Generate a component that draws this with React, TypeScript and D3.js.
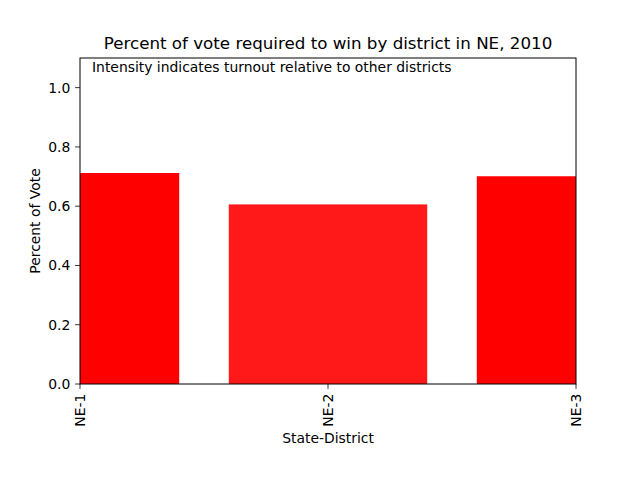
import React from 'react';
import * as d3 from 'd3';

// districts and their winning vote share
const districts = ['NE-1', 'NE-2', 'NE-3'];
const voteShare = [0.712, 0.606, 0.701];
// turnout intensity -> bar opacity
const intensity = [1.0, 0.9, 1.0];
const yTicks = [0.0, 0.2, 0.4, 0.6, 0.8, 1.0];

const W = 640;
const H = 480;
const margin = { top: 58, right: 64, bottom: 96, left: 80 };
const font = 'DejaVu Sans, sans-serif';

export default function App() {
  const innerW = W - margin.left - margin.right;
  const innerH = H - margin.top - margin.bottom;

  const x = d3.scaleLinear().domain([0, districts.length - 1]).range([0, innerW]);
  const y = d3.scaleLinear().domain([0, 1.1]).range([innerH, 0]);
  const barW = 0.8;

  return (
    <svg width={W} height={H} style={{ position: 'absolute', left: 0, top: 0, background: '#fff' }}>
      <defs>
        <clipPath id="plotClip">
          <rect x={0} y={0} width={innerW} height={innerH} />
        </clipPath>
      </defs>
      <text x={margin.left + innerW / 2} y={49} textAnchor="middle" fontFamily={font} fontSize={16.7}>
        Percent of vote required to win by district in NE, 2010
      </text>
      <g transform={`translate(${margin.left},${margin.top})`}>
        <g clipPath="url(#plotClip)">
          {districts.map((d, i) => (
            <rect
              key={d}
              x={x(i - barW / 2)}
              y={y(voteShare[i])}
              width={x(i + barW / 2) - x(i - barW / 2)}
              height={y(0) - y(voteShare[i])}
              fill="red"
              fillOpacity={intensity[i]}
            />
          ))}
        </g>
        <text x={12} y={14} fontFamily={font} fontSize={13.9}>
          Intensity indicates turnout relative to other districts
        </text>
        <rect x={0} y={0} width={innerW} height={innerH} fill="none" stroke="#000" strokeWidth={1} />
        {yTicks.map(t => (
          <g key={t} transform={`translate(0,${y(t)})`}>
            <line x1={-4.9} x2={0} stroke="#000" strokeWidth={0.8} />
            <text x={-9.7} dy="0.35em" textAnchor="end" fontFamily={font} fontSize={13.9}>
              {t.toFixed(1)}
            </text>
          </g>
        ))}
        {districts.map((d, i) => (
          <g key={d} transform={`translate(${x(i)},${innerH})`}>
            <line y1={0} y2={4.9} stroke="#000" strokeWidth={0.8} />
            <text
              transform="translate(0,9.7) rotate(-90)"
              dy="0.35em"
              textAnchor="end"
              fontFamily={font}
              fontSize={13.9}
            >
              {d}
            </text>
          </g>
        ))}
        <text x={innerW / 2} y={innerH + 59} textAnchor="middle" fontFamily={font} fontSize={13.9}>
          State-District
        </text>
        <text
          transform={`translate(-40,${innerH / 2}) rotate(-90)`}
          textAnchor="middle"
          fontFamily={font}
          fontSize={13.9}
        >
          Percent of Vote
        </text>
      </g>
    </svg>
  );
}
